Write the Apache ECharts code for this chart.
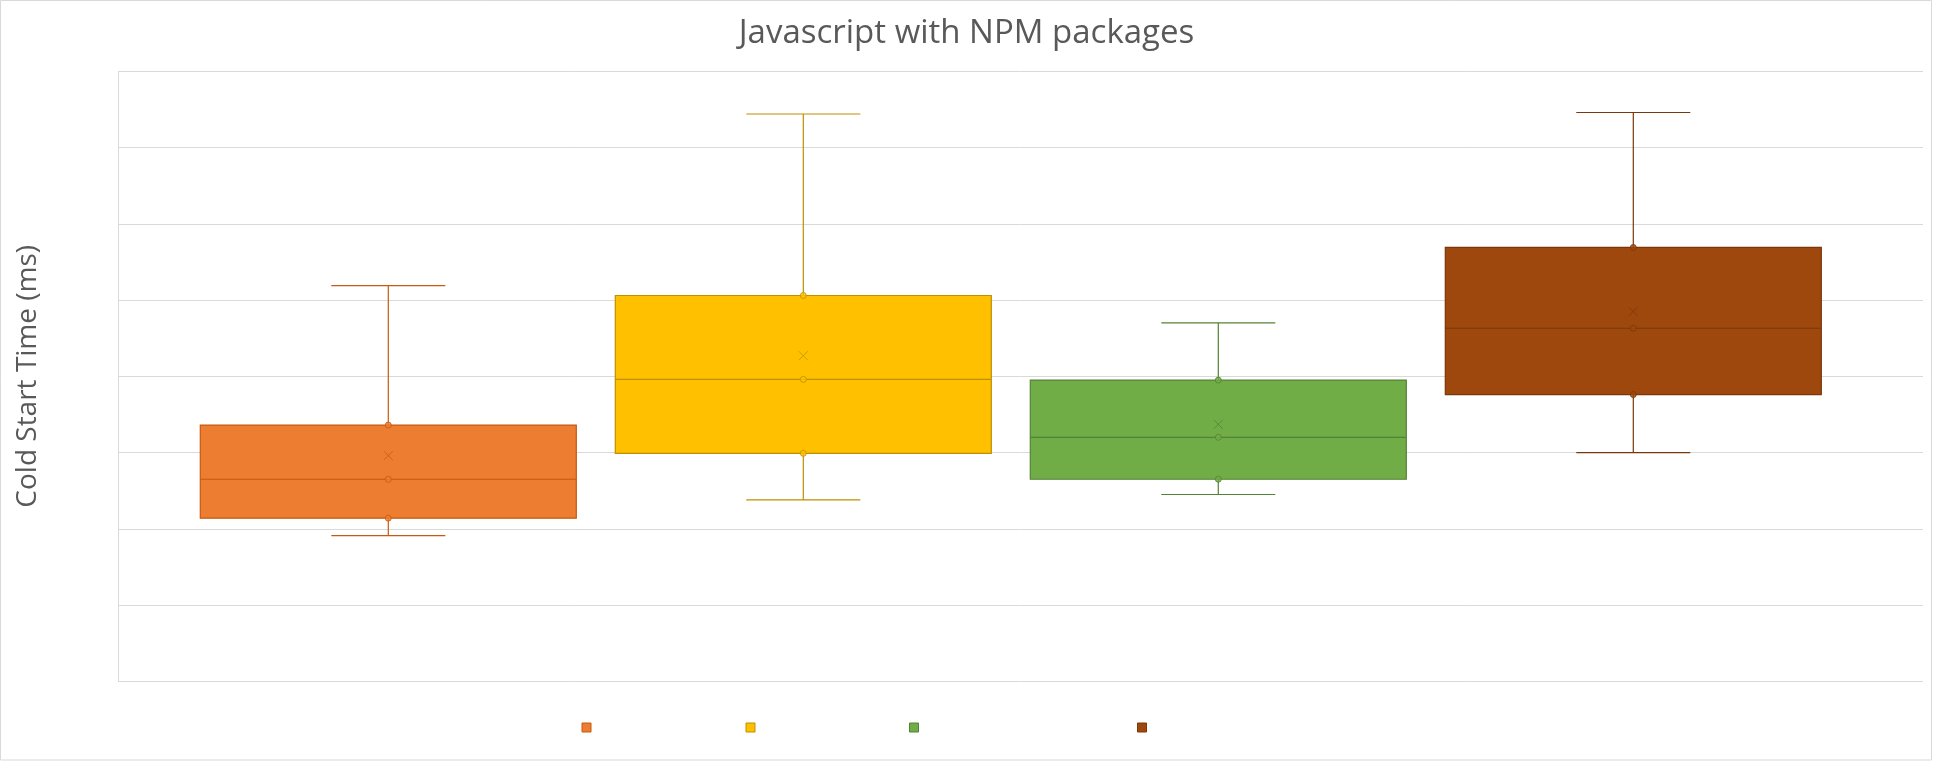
<!DOCTYPE html>
<html><head><meta charset="utf-8">
<script src="https://cdn.jsdelivr.net/npm/echarts@6/dist/echarts.min.js"></script>
<style>html,body{margin:0;padding:0;background:#fff}#c{width:1933px;height:762px}</style>
</head><body><div id="c"></div>
<script>
const categories = ['Group 1', 'Group 2', 'Group 3', 'Group 4'];
const seriesNames = ['Series 1', 'Series 2', 'Series 3', 'Series 4'];
const mins    = [191, 238, 245, 300];
const q1s     = [214, 299, 265, 376];
const medians = [265, 396, 320, 463];
const q3s     = [336, 506, 395, 569];
const maxs    = [519, 744, 470, 746];
const means   = [296, 427, 337, 485];
const yMin = 0, yMax = 800, yInterval = 100;

const fillColors = ['#ED7D31', '#FFC000', '#70AD47', '#9E480E'];
const lineColors = ['#C55A11', '#BF9000', '#548235', '#7A370B'];
const legendLefts = [581.5, 745.5, 909, 1137];
const FONT = 'Open Sans';

const chart = echarts.init(document.getElementById('c'), null, {renderer: 'canvas'});

// Narrow series: only its whiskers and caps stay visible (its box collapses
// to the median and is hidden under the wide box fill).
const whiskerData = categories.map((c, i) => ({
  value: [mins[i], medians[i], medians[i], medians[i], maxs[i]],
  itemStyle: {color: fillColors[i], borderColor: lineColors[i], borderWidth: 1.2}
}));
// Wide series: the box itself (whiskers collapse onto the box edges).
const boxData = categories.map((c, i) => ({
  value: [q1s[i], q1s[i], medians[i], q3s[i], q3s[i]],
  itemStyle: {color: fillColors[i], borderColor: lineColors[i], borderWidth: 1.2}
}));

const pointSeries = seriesNames.map((n, i) => ({
  name: n,
  type: 'scatter',
  xAxisIndex: 1, yAxisIndex: 1,
  symbol: 'circle', symbolSize: 6,
  z: 5, silent: true,
  itemStyle: {color: fillColors[i], borderColor: lineColors[i], borderWidth: 1},
  data: [[i, q1s[i]], [i, medians[i]], [i, q3s[i]]]
}));

const option = {
  animation: false,
  backgroundColor: '#fff',
  title: {
    text: 'Javascript with NPM packages',
    left: 'center', top: 12,
    textStyle: {fontFamily: FONT, fontSize: 33, fontWeight: 'normal', color: '#595959'}
  },
  graphic: [{
    type: 'rect', silent: true, z: -10,
    shape: {x: 0.5, y: 0.5, width: 1931, height: 759.5},
    style: {fill: 'none', stroke: '#d9d9d9', lineWidth: 1}
  }],
  legend: seriesNames.map((n, i) => ({
    data: [n], left: legendLefts[i], top: 722.5,
    itemWidth: 9, itemHeight: 9, icon: 'rect', padding: 0, itemGap: 0,
    selectedMode: false, formatter: () => '',
    itemStyle: {color: fillColors[i], borderColor: lineColors[i], borderWidth: 1, opacity: 1},
    textStyle: {fontSize: 1}
  })),
  grid: [
    {left: 118, right: 10, top: 71.3, bottom: 80.7},
    {left: 180.8, right: 92.2, top: 71.3, bottom: 80.7}
  ],
  xAxis: [
    {gridIndex: 0, type: 'category', data: [''], show: false},
    {gridIndex: 1, type: 'category', data: categories, show: false},
    {gridIndex: 1, type: 'category', data: categories, show: false}
  ],
  yAxis: [
    {
      gridIndex: 0, type: 'value', min: yMin, max: yMax, interval: yInterval,
      axisLabel: {show: false}, axisTick: {show: false},
      axisLine: {show: true, lineStyle: {color: '#d9d9d9', width: 1}},
      splitLine: {show: true, lineStyle: {color: '#d9d9d9', width: 1}},
      name: 'Cold Start Time (ms)', nameLocation: 'middle', nameGap: 76,
      nameTextStyle: {fontFamily: FONT, fontSize: 28, color: '#595959'}
    },
    {gridIndex: 1, type: 'value', min: yMin, max: yMax, interval: yInterval, show: false}
  ],
  series: [
    {
      name: 'whiskers', type: 'boxplot', xAxisIndex: 1, yAxisIndex: 1,
      boxWidth: [114, 114], z: 2, silent: true,
      data: whiskerData
    },
    {
      name: 'boxes', type: 'boxplot', xAxisIndex: 2, yAxisIndex: 1,
      boxWidth: [376, 376], z: 3, silent: true,
      data: boxData
    },
    ...pointSeries,
    {
      name: 'Mean', type: 'scatter', xAxisIndex: 1, yAxisIndex: 1,
      symbol: 'path://M0,0L10,10M10,0L0,10', symbolSize: 9, z: 6, silent: true,
      itemStyle: {color: 'none', borderWidth: 1, opacity: 0.75},
      data: means.map((m, i) => ({value: [i, m], itemStyle: {borderColor: lineColors[i]}}))
    }
  ]
};
chart.setOption(option);
</script>
</body></html>
